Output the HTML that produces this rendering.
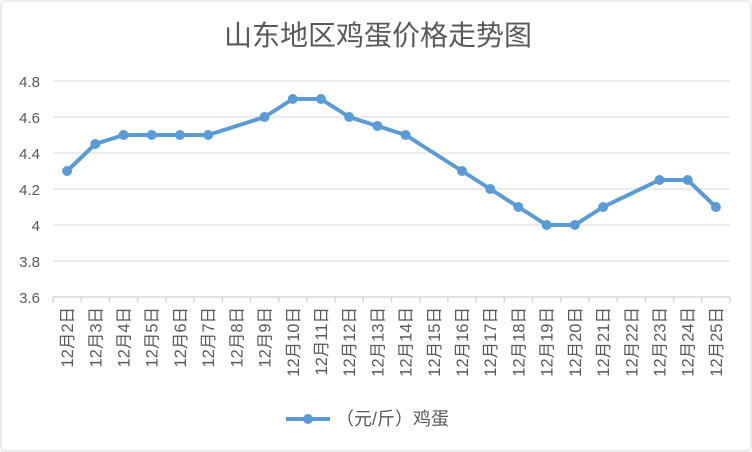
<!DOCTYPE html>
<html><head><meta charset="utf-8"><style>
html,body{margin:0;padding:0;background:#fff;}
svg{display:block;font-family:"Liberation Sans","Noto Sans CJK SC",sans-serif;}
</style></head><body>
<svg id="c" width="752" height="452">
<rect x="1" y="1" width="750" height="450" rx="4" fill="#fff" stroke="#d9d9d9"/>
<text x="378" y="45" text-anchor="middle" font-size="28" fill="#595959" font-family="'Noto Sans CJK SC',sans-serif">山东地区鸡蛋价格走势图</text>
<g id="grid"></g><g id="ylab"></g><g id="xlab"></g><g id="series"></g>
<g>
<line x1="286" y1="419" x2="330" y2="419" stroke="#5b9bd5" stroke-width="4"/>
<circle cx="308" cy="419" r="5" fill="#5b9bd5"/>
<text x="336" y="425" font-size="18" fill="#595959">（元/斤）鸡蛋</text>
</g>
</svg>
<script>
const categories=["12月2日","12月3日","12月4日","12月5日","12月6日","12月7日","12月8日","12月9日","12月10日","12月11日","12月12日","12月13日","12月14日","12月15日","12月16日","12月17日","12月18日","12月19日","12月20日","12月21日","12月22日","12月23日","12月24日","12月25日"];
const eggPrices=[4.3,4.45,4.5,4.5,4.5,4.5,null,4.6,4.7,4.7,4.6,4.55,4.5,null,4.3,4.2,4.1,4.0,4.0,4.1,null,4.25,4.25,4.1];
const yTicks=[3.6,3.8,4,4.2,4.4,4.6,4.8];
const NS="http://www.w3.org/2000/svg";
const X0=53,X1=730,Y0=297,Y1=81,yMin=3.6,yMax=4.8;
const bw=(X1-X0)/categories.length;
const xs=i=>X0+bw*(i+0.5);
const ys=v=>Y0-(v-yMin)/(yMax-yMin)*(Y0-Y1);
function mk(t,a,p){const e=document.createElementNS(NS,t);for(const k in a)e.setAttribute(k,a[k]);p.appendChild(e);return e;}
const grid=document.getElementById('grid'),ylab=document.getElementById('ylab'),xlab=document.getElementById('xlab'),ser=document.getElementById('series');
yTicks.forEach(v=>{
 if(v!==yMin){const l=mk('line',{x1:X0,x2:X1,y1:ys(v),y2:ys(v),stroke:'#d9d9d9'},grid);
 
 }
 const t=mk('text',{x:40,y:ys(v)+6,'text-anchor':'end','font-size':15,fill:'#595959'},ylab);t.textContent=String(v);
 
 
});
const ax=mk('line',{x1:X0,x2:X1,y1:Y0,y2:Y0,stroke:'#d9d9d9','stroke-width':1.5},grid);


for(let i=0;i<=categories.length;i++){const tk=mk('line',{x1:X0+bw*i,x2:X0+bw*i,y1:Y0,y2:Y0+6,stroke:'#d9d9d9','stroke-width':1.5},grid);
 
 }
categories.forEach((c,i)=>{
 const t=mk('text',{transform:`translate(${xs(i)+6},${Y0+10}) rotate(-90)`,'text-anchor':'end','font-size':16.5,fill:'#595959'},xlab);t.textContent=c;
 
 
});
const pts=[];eggPrices.forEach((v,i)=>{if(v!==null)pts.push([xs(i),ys(v)]);});
const pl=mk('polyline',{points:pts.map(p=>p.join(',')).join(' '),fill:'none',stroke:'#5b9bd5','stroke-width':4,'stroke-linejoin':'round'},ser);


pts.forEach(p=>{const c=mk('circle',{cx:p[0],cy:p[1],r:5,fill:'#5b9bd5'},ser);
 
 });
</script>
</body></html>
